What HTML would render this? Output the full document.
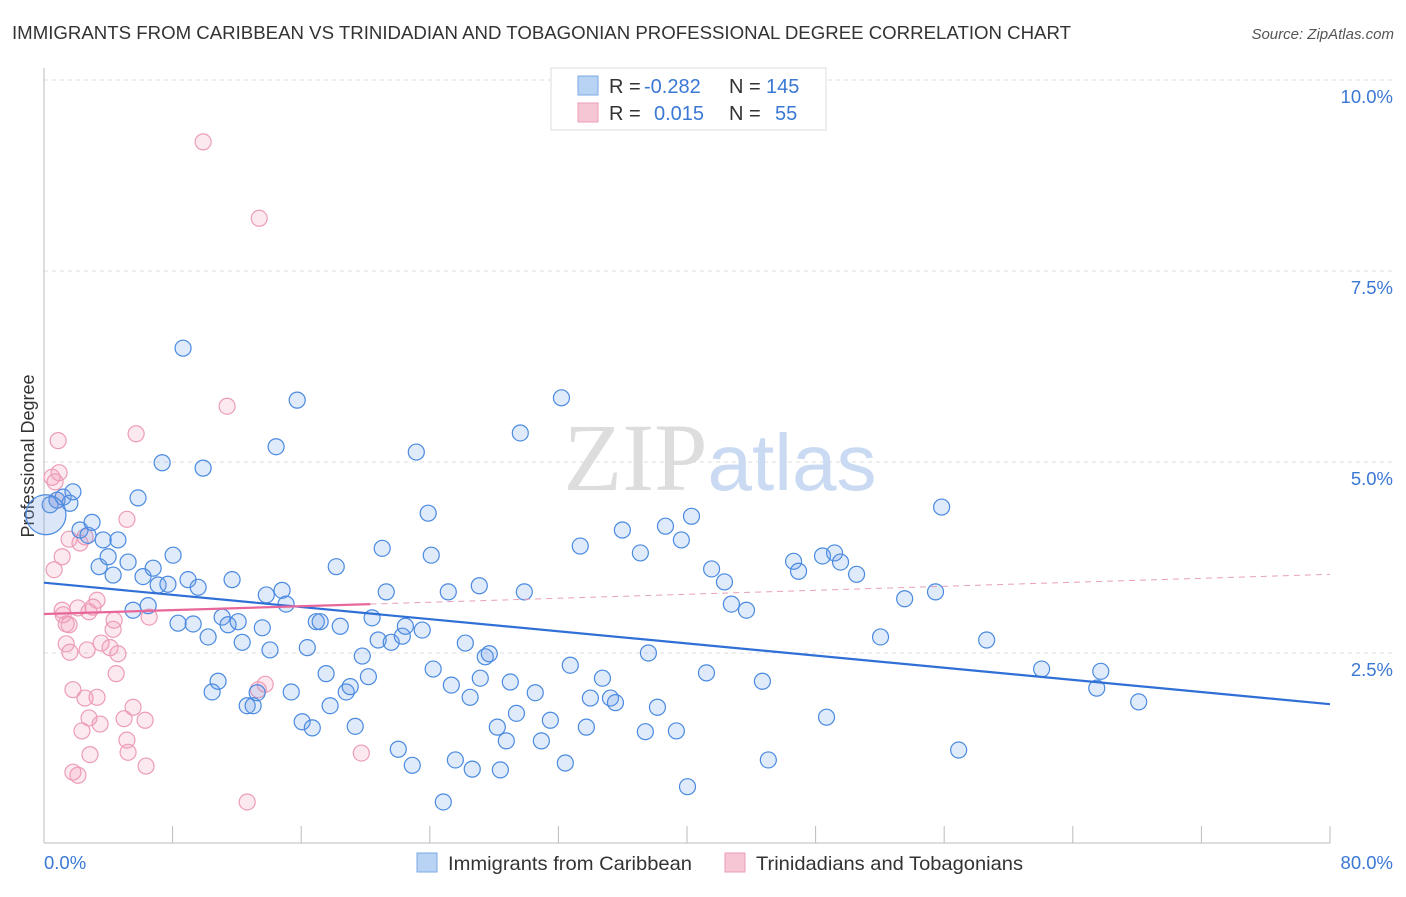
<!DOCTYPE html>
<html><head><meta charset="utf-8"><style>
body{margin:0;background:#fff;font-family:"Liberation Sans",sans-serif;}
svg text{font-family:"Liberation Sans",sans-serif;}
</style></head><body>
<svg id="chart" width="1406" height="892" viewBox="0 0 1406 892" xmlns="http://www.w3.org/2000/svg">
<text x="12" y="39" font-size="18.5" fill="#333" textLength="1059" lengthAdjust="spacingAndGlyphs">IMMIGRANTS FROM CARIBBEAN VS TRINIDADIAN AND TOBAGONIAN PROFESSIONAL DEGREE CORRELATION CHART</text>
<text x="1394" y="39" font-size="15" fill="#555" font-style="italic" text-anchor="end">Source: ZipAtlas.com</text>
<g id="grid"></g>
<text x="720" y="490" font-size="96" text-anchor="middle"><tspan fill="#ddd" font-family="Liberation Serif">ZIP</tspan><tspan fill="#c9daf2" font-size="80">atlas</tspan></text>
<line x1="44" y1="843" x2="1330" y2="843" stroke="#bbb"/>
<line x1="44" y1="68" x2="44" y2="843" stroke="#bbb"/>
<g id="xticks"></g>
<g id="ylabels"></g>
<text transform="translate(34,456) rotate(-90)" font-size="18" fill="#333" text-anchor="middle">Professional Degree</text>
<text x="44" y="869" font-size="18.5" fill="#3a78d4">0.0%</text>
<text x="1393" y="869" font-size="18.5" fill="#3a78d4" text-anchor="end">80.0%</text>
<g id="pts"></g>
<g id="trends"></g>
<g>
<rect x="551" y="68" width="275" height="62" fill="#fff" stroke="#ddd"/>
<rect x="578" y="76" width="20" height="19" fill="#b9d3f5" stroke="#7aa8e6"/>
<rect x="578" y="103" width="20" height="19" fill="#f7c6d4" stroke="#ec9db6"/>
<text font-size="20" fill="#333" y="93"><tspan x="609">R =</tspan><tspan x="644" fill="#3a78d4">-0.282</tspan><tspan x="729">N =</tspan><tspan x="766" fill="#3a78d4">145</tspan></text>
<text font-size="20" fill="#333" y="120"><tspan x="609">R =</tspan><tspan x="654" fill="#3a78d4">0.015</tspan><tspan x="729">N =</tspan><tspan x="775" fill="#3a78d4">55</tspan></text>
</g>
<g>
<rect x="417" y="853" width="20" height="19" fill="#b9d3f5" stroke="#7aa8e6"/>
<text x="448" y="870" font-size="19.5" fill="#333" textLength="244" lengthAdjust="spacingAndGlyphs">Immigrants from Caribbean</text>
<rect x="725" y="853" width="20" height="19" fill="#f7c6d4" stroke="#ec9db6"/>
<text x="756" y="870" font-size="19.5" fill="#333" textLength="267" lengthAdjust="spacingAndGlyphs">Trinidadians and Tobagonians</text>
</g>
</svg>
<script>
const yTicks=[2.5,5.0,7.5,10.0];
const yTickLabels=["2.5%","5.0%","7.5%","10.0%"];
const xTicks=[0,8,16,24,32,40,48,56,64,72,80];
const blueX=[0.38,0.81,1.19,1.61,1.80,2.24,2.74,2.99,3.43,3.68,3.99,4.30,4.60,5.23,5.54,5.85,6.16,6.48,6.79,7.10,7.35,7.71,8.03,8.34,8.65,8.96,9.28,9.59,9.90,10.21,10.46,10.83,11.08,11.45,11.70,12.08,12.33,12.64,13.01,13.26,13.58,13.83,14.06,14.44,14.81,15.06,15.38,15.75,16.06,16.38,16.69,16.94,17.18,17.55,17.80,18.18,18.43,18.80,19.05,19.36,19.80,20.18,20.41,20.79,21.04,21.29,21.60,22.04,22.29,22.48,22.91,23.16,23.53,23.90,24.09,24.21,24.84,25.15,25.34,25.59,26.21,26.51,26.64,27.14,27.08,27.45,27.70,28.20,28.39,28.76,29.01,29.39,29.63,29.88,30.56,30.94,31.50,32.19,32.43,32.74,33.36,33.74,33.99,34.74,35.24,35.55,35.98,37.10,37.41,37.60,38.16,38.66,39.34,39.65,40.03,40.28,41.21,41.53,42.33,42.76,43.70,44.69,45.06,46.63,46.94,48.43,48.68,49.18,49.55,50.55,52.04,53.54,55.46,55.84,56.90,58.64,62.06,65.49,65.74,68.10];
const blueY=[4.44,4.50,4.54,4.46,4.61,4.11,4.04,4.21,3.63,3.98,3.76,3.52,3.98,3.69,3.06,4.53,3.50,3.12,3.61,3.39,4.99,3.40,3.78,2.89,6.49,3.46,2.88,3.36,4.92,2.71,1.99,2.13,2.97,2.87,3.46,2.91,2.64,1.81,1.81,1.98,2.83,3.26,2.54,5.20,3.32,3.14,1.99,5.81,1.60,2.57,1.52,2.91,2.91,2.23,1.81,3.63,2.85,1.99,2.06,1.54,2.46,2.19,2.96,2.67,3.87,3.30,2.64,1.24,2.72,2.85,1.03,5.13,2.80,4.33,3.78,2.29,0.55,3.30,2.08,1.10,2.63,1.92,0.98,2.17,3.38,2.45,2.49,1.53,0.97,1.35,2.12,1.71,5.38,3.30,1.98,1.35,1.62,5.84,1.06,2.34,3.90,1.53,1.91,2.17,1.91,1.85,4.11,3.81,1.47,2.50,1.79,4.16,1.48,3.98,0.75,4.29,2.24,3.60,3.43,3.14,3.06,2.13,1.10,3.70,3.57,3.77,1.66,3.81,3.69,3.53,2.71,3.21,3.30,4.41,1.23,2.67,2.29,2.04,2.26,1.86];
const pinkX=[9.90,13.39,11.39,5.73,0.88,0.94,0.50,0.69,0.81,5.16,2.55,2.24,1.56,1.13,0.63,1.13,2.11,3.05,2.80,3.30,1.38,1.56,1.38,1.61,2.68,3.55,4.30,4.11,4.60,6.54,4.49,13.76,1.80,2.55,3.30,5.54,13.33,2.80,3.49,4.98,6.29,2.36,5.16,2.86,5.23,6.35,1.80,2.11,12.64,19.74,4.36,1.19];
const pinkY=[9.19,8.19,5.73,5.37,5.28,4.86,4.80,4.74,4.50,4.25,4.02,3.94,3.99,3.76,3.59,3.06,3.09,3.10,3.04,3.19,2.88,2.87,2.62,2.51,2.54,2.63,2.81,2.57,2.49,2.97,2.23,2.09,2.02,1.91,1.92,1.79,2.02,1.65,1.57,1.64,1.62,1.48,1.36,1.17,1.20,1.02,0.94,0.90,0.55,1.19,2.93,3.00];
const bigBlue=[0.12,4.31];
const trendBlueX=[0,80], trendBlueY=[3.42,1.83];
const trendPinkX=[0,20.3,80], trendPinkY=[3.01,3.14,3.53];
const NS="http://www.w3.org/2000/svg";
const sx=v=>44+v/80*1286;
const sy=v=>844-v*76.4;
function mk(t,a,p){const e=document.createElementNS(NS,t);for(const k in a)e.setAttribute(k,a[k]);p.appendChild(e);return e;}
const grid=document.getElementById('grid');
yTicks.forEach((t,i)=>{
 const l=mk('line',{x1:44,x2:1394,y1:sy(t),y2:sy(t),stroke:'#ddd','stroke-dasharray':'4,4'},grid);
 
 
 const tx=mk('text',{x:1393,y:sy(t)+23,'font-size':18.5,fill:'#3a78d4','text-anchor':'end'},document.getElementById('ylabels'));
 tx.textContent=yTickLabels[i];
 
 
});
xTicks.forEach(t=>{
 const l=mk('line',{x1:sx(t),x2:sx(t),y1:826,y2:843,stroke:'#bbb'},document.getElementById('xticks'));
 
 
});
const pts=document.getElementById('pts');
pinkX.forEach((x,i)=>{
 const c=mk('circle',{cx:sx(x),cy:sy(pinkY[i]),r:8,fill:'rgba(240,150,180,0.22)',stroke:'#ec9db6','stroke-width':1.2},pts);
 
 
});
blueX.forEach((x,i)=>{
 const c=mk('circle',{cx:sx(x),cy:sy(blueY[i]),r:8,fill:'rgba(110,160,230,0.22)',stroke:'#4a8ae0','stroke-width':1.2},pts);
 
 
});
const bc=mk('circle',{cx:sx(bigBlue[0]),cy:sy(bigBlue[1]),r:20,fill:'rgba(110,160,230,0.25)',stroke:'#4a8ae0','stroke-width':1.2},pts);


const tr=document.getElementById('trends');
const tb=mk('line',{x1:sx(trendBlueX[0]),y1:sy(trendBlueY[0]),x2:sx(trendBlueX[1]),y2:sy(trendBlueY[1]),stroke:'#2f6fd6','stroke-width':2.2},tr);


const tp=mk('line',{x1:sx(trendPinkX[0]),y1:sy(trendPinkY[0]),x2:sx(trendPinkX[1]),y2:sy(trendPinkY[1]),stroke:'#e8679a','stroke-width':2.2},tr);


const td=mk('line',{x1:sx(trendPinkX[1]),y1:sy(trendPinkY[1]),x2:sx(trendPinkX[2]),y2:sy(trendPinkY[2]),stroke:'#e8a0b8','stroke-width':1,'stroke-dasharray':'6,5'},tr);


</script>
</body></html>
